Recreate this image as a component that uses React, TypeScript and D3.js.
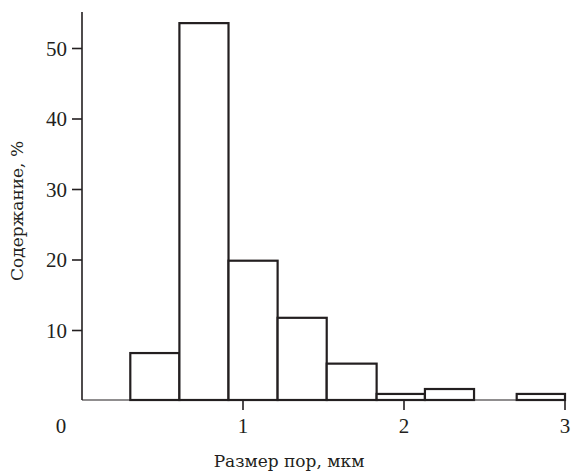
import React from "react";
import * as d3 from "d3";

const binEdges = [0.3, 0.605, 0.91, 1.215, 1.52, 1.83, 2.13, 2.435, 2.7, 3.0];
const binValues = [6.8, 53.6, 19.9, 11.8, 5.3, 1.0, 1.7, 0, 1.0];
const yTicks = [10, 20, 30, 40, 50];
const xTicks = [1, 2, 3];
const xTitle = "Размер пор, мкм";
const yTitle = "Содержание, %";

const W = 572;
const H = 471;
const ink = "#231f20";
const numStyle: React.CSSProperties = { fontFamily: "Liberation Serif", fontSize: 21 };
const titleStyle: React.CSSProperties = { fontFamily: "DejaVu Serif", fontSize: 17 };

export default function App() {
  const x = d3.scaleLinear().domain([0, 3]).range([82, 565]);
  const y = d3.scaleLinear().domain([0, 10]).range([401, 330.5]);
  const base = 400;
  const bars = binValues
    .map((v, i) => ({ x0: binEdges[i], x1: binEdges[i + 1], v }))
    .filter((b) => b.v > 0);
  return (
    <svg
      width={W}
      height={H}
      style={{ position: "absolute", left: 0, top: 0, background: "#fff" }}
    >
      <line x1={x(0)} x2={x(3)} y1={base} y2={base} stroke={ink} strokeWidth={1.2} />
      <line x1={x(0)} x2={x(0)} y1={12} y2={base} stroke={ink} strokeWidth={1.6} />
      {yTicks.map((t) => (
        <g key={t}>
          <line x1={x(0) - 10} x2={x(0)} y1={y(t)} y2={y(t)} stroke={ink} strokeWidth={1.6} />
          <text x={67} y={y(t)} dy="0.35em" textAnchor="end" style={numStyle} fill={ink}>
            {t}
          </text>
        </g>
      ))}
      {bars.map((b, i) => (
        <rect
          key={i}
          x={x(b.x0)}
          y={y(b.v)}
          width={x(b.x1) - x(b.x0)}
          height={base - y(b.v)}
          fill="#fff"
          stroke={ink}
          strokeWidth={2.2}
        />
      ))}
      {xTicks.map((t) => (
        <g key={t}>
          <line x1={x(t)} x2={x(t)} y1={base} y2={base + 10} stroke={ink} strokeWidth={1.6} />
          <text x={x(t)} y={433} textAnchor="middle" style={numStyle} fill={ink}>
            {t}
          </text>
        </g>
      ))}
      <text x={61} y={433} textAnchor="middle" style={numStyle} fill={ink}>
        0
      </text>
      <text x={289} y={467} textAnchor="middle" style={titleStyle} fill={ink}>
        {xTitle}
      </text>
      <text transform={`translate(23, 211) rotate(-90)`} textAnchor="middle" style={titleStyle} fill={ink}>
        {yTitle}
      </text>
    </svg>
  );
}
